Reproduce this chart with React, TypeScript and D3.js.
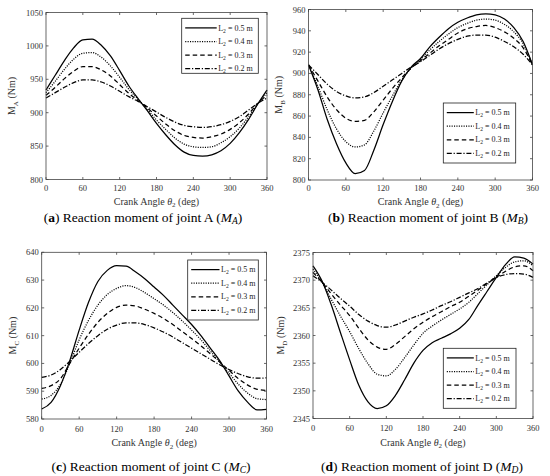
import * as React from "react";
import * as d3 from "d3";

// crank angle samples (deg)
const angles = [0, 15, 30, 45, 60, 75, 90, 105, 120, 135, 150, 165, 180, 195, 210, 225, 240, 255, 270, 285, 300, 315, 330, 345, 360];
const lengths = ["0.5", "0.4", "0.3", "0.2"];
const xTicks = [0, 60, 120, 180, 240, 300, 360];

// joint A
const mA05 = [934, 956, 978, 997, 1009, 1010, 1001, 985, 963, 940, 921, 903, 884, 867, 852, 841, 836, 835, 837, 843, 854, 870, 890, 913, 934];
const mA04 = [930, 947, 965, 980, 989, 990, 983, 970, 953, 935, 920, 905, 889, 875, 862, 853, 849, 848, 849, 855, 864, 877, 894, 913, 930];
const mA03 = [926, 938, 951, 962, 969, 969, 964, 955, 942, 929, 918, 907, 895, 883, 873, 866, 863, 862, 864, 868, 875, 885, 898, 914, 926];
const mA02 = [922, 930, 938, 945, 949, 949, 946, 940, 932, 924, 917, 909, 901, 893, 886, 881, 879, 878, 879, 882, 887, 894, 904, 914, 922];
const yTicksA = [800, 850, 900, 950, 1000, 1050];

// joint B
const mB05 = [908, 885, 857, 834, 816, 806, 809, 828, 852, 874, 893, 906, 914, 925, 934, 942, 948, 952, 955, 956, 955, 951, 943, 930, 908];
const mB04 = [908, 888, 866, 848, 836, 831, 833, 846, 863, 879, 894, 905, 913, 922, 930, 937, 943, 947, 950, 951, 950, 946, 939, 928, 908];
const mB03 = [908, 893, 878, 866, 858, 855, 856, 864, 875, 886, 896, 905, 912, 919, 926, 932, 938, 942, 944, 945, 943, 939, 933, 924, 908];
const mB02 = [908, 899, 890, 883, 879, 877, 878, 882, 888, 894, 900, 906, 911, 917, 923, 928, 932, 935, 936, 936, 934, 930, 925, 918, 908];
const yTicksB = [800, 820, 840, 860, 880, 900, 920, 940, 960];

// joint C
const mC05 = [583.6, 586, 592, 601, 612, 622, 629.5, 633.5, 635.2, 635, 633, 630.5, 627.5, 624.5, 621, 617.5, 614, 610, 605.5, 601, 595.5, 590, 586, 583.3, 583.5];
const mC04 = [587.2, 588.5, 592.5, 600, 608.5, 615.5, 621, 624.8, 627, 628, 627.3, 625.5, 623.3, 621, 618.3, 615.3, 612, 608.5, 604.5, 600.5, 596.5, 592.5, 589.3, 587.3, 587];
const mC03 = [591, 592, 594.5, 600, 605.5, 610.5, 614.8, 618, 620.2, 621, 620.7, 619.5, 618, 616.2, 614, 611.5, 609, 606.3, 603.5, 600.5, 597.5, 594.5, 592.2, 590.7, 590.3];
const mC02 = [595, 595.8, 597.8, 600.8, 604, 607.2, 610, 612.3, 613.8, 614.6, 614.6, 614, 612.8, 611.3, 609.5, 607.5, 605.5, 603.5, 601.5, 599.5, 597.8, 596.3, 595.2, 594.7, 594.8];
const yTicksC = [580, 590, 600, 610, 620, 630, 640];

// joint D
const mD05 = [2372.6, 2369.8, 2365.5, 2360.5, 2355.6, 2351.0, 2348.0, 2346.8, 2347.3, 2349.2, 2352.0, 2355.0, 2357.3, 2358.7, 2359.5, 2360.3, 2361.3, 2362.9, 2365.5, 2368.0, 2370.5, 2372.8, 2374.2, 2374.0, 2372.9];
const mD04 = [2372.0, 2369.6, 2366.5, 2363.5, 2360.7, 2357.6, 2354.9, 2353.0, 2352.7, 2353.9, 2356.0, 2358.3, 2360.4, 2361.7, 2362.8, 2363.8, 2364.8, 2366.0, 2367.6, 2369.2, 2370.8, 2372.3, 2373.3, 2373.5, 2372.6];
const mD03 = [2371.4, 2369.6, 2367.5, 2365.5, 2363.6, 2361.3, 2359.2, 2357.9, 2357.5, 2358.4, 2359.8, 2361.2, 2362.4, 2363.4, 2364.3, 2365.2, 2366.0, 2367.1, 2368.2, 2369.4, 2370.5, 2371.6, 2372.4, 2372.6, 2371.7];
const mD02 = [2370.8, 2369.6, 2368.2, 2366.7, 2365.3, 2363.8, 2362.6, 2361.8, 2361.5, 2361.9, 2362.6, 2363.3, 2363.9, 2364.6, 2365.4, 2366.1, 2366.9, 2367.7, 2368.5, 2369.5, 2370.5, 2371.0, 2371.2, 2371.1, 2370.5];
const yTicksD = [2345, 2350, 2355, 2360, 2365, 2370, 2375];

const dashes = ["none", "1.1 1.3", "4.5 3", "5 1.8 1.2 1.8"];
const serif = "Liberation Serif, DejaVu Serif, serif";
const axisGray = "#444";

type PanelProps = {
  series: number[][];
  yTicks: number[];
  box: [number, number, number, number]; // x0, y0, x1, y1
  legend: [number, number, number, number]; // x, y, w, h
  lineLen: number;
  joint: string;
  letter: string;
  yLabelX: number;
  tickGap: number;
  titleGap: number;
  captionY: number;
  captionX: number;
};

const Panel = (p: PanelProps) => {
  const [x0, y0, x1, y1] = p.box;
  const x = d3.scaleLinear().domain([0, 360]).range([x0, x1]);
  const y = d3
    .scaleLinear()
    .domain([p.yTicks[0], p.yTicks[p.yTicks.length - 1]])
    .range([y1, y0]);

  const line = d3
    .line<number>()
    .x((_, i) => x(angles[i]))
    .y((d) => y(d))
    .curve(d3.curveMonotoneX);

  const [lx, ly, lw, lh] = p.legend;
  const cx = (x0 + x1) / 2;
  const cy = (y0 + y1) / 2;

  return (
    <g>
      {/* curves */}
      {p.series.map((s, i) => (
        <path
          key={i}
          d={line(s) || ""}
          fill="none"
          stroke="#000"
          strokeWidth={1.25}
          strokeDasharray={dashes[i]}
        />
      ))}

      {/* box + inward ticks */}
      <rect x={x0} y={y0} width={x1 - x0} height={y1 - y0} fill="none" stroke={axisGray} strokeWidth={0.8} />
      {xTicks.map((t) => (
        <g key={"x" + t}>
          <line x1={x(t)} x2={x(t)} y1={y1} y2={y1 - 2.5} stroke={axisGray} strokeWidth={0.8} />
          <line x1={x(t)} x2={x(t)} y1={y0} y2={y0 + 2.5} stroke={axisGray} strokeWidth={0.8} />
          <text x={x(t)} y={y1 + p.tickGap} textAnchor="middle" fontSize={8.5} fill="#333">
            {t}
          </text>
        </g>
      ))}
      {p.yTicks.map((t) => (
        <g key={"y" + t}>
          <line x1={x0} x2={x0 + 2.5} y1={y(t)} y2={y(t)} stroke={axisGray} strokeWidth={0.8} />
          <line x1={x1} x2={x1 - 2.5} y1={y(t)} y2={y(t)} stroke={axisGray} strokeWidth={0.8} />
          <text x={x0 - 3} y={y(t) + 3} textAnchor="end" fontSize={8.5} fill="#333">
            {t}
          </text>
        </g>
      ))}

      {/* axis titles */}
      <text x={cx} y={y1 + p.titleGap} textAnchor="middle" fontSize={10} fill="#333">
        Crank Angle <tspan fontStyle="italic">θ</tspan>
        <tspan fontSize={7} dy={2.5}>2</tspan>
        <tspan dy={-2.5}> (deg)</tspan>
      </text>
      <text
        transform={`translate(${p.yLabelX},${cy}) rotate(-90)`}
        textAnchor="middle"
        fontSize={10}
        fill="#333"
      >
        M<tspan fontSize={7} dy={2.5}>{p.joint}</tspan>
        <tspan dy={-2.5}> (Nm)</tspan>
      </text>

      {/* legend */}
      <rect x={lx} y={ly} width={lw} height={lh} fill="#fff" stroke="#222" strokeWidth={0.8} />
      {lengths.map((l, i) => {
        const ey = ly + 9.6 + i * 13.6;
        return (
          <g key={l}>
            <line
              x1={lx + 3.5}
              x2={lx + 3.5 + p.lineLen}
              y1={ey}
              y2={ey}
              stroke="#000"
              strokeWidth={1.25}
              strokeDasharray={dashes[i]}
            />
            <text x={lx + 5 + p.lineLen} y={ey + 2.6} fontSize={8} fill="#222">
              L<tspan fontSize={5.6} dy={2}>2</tspan>
              <tspan dy={-2}> = {l} m</tspan>
            </text>
          </g>
        );
      })}

      {/* caption */}
      <text x={p.captionX} y={p.captionY} textAnchor="middle" fontSize={13.5} fill="#000">
        (<tspan fontWeight="bold">{p.letter}</tspan>) Reaction moment of joint {p.joint} (
        <tspan fontStyle="italic">M</tspan>
        <tspan fontStyle="italic" fontSize={9.5} dy={2.5}>{p.joint}</tspan>
        <tspan dy={-2.5}>)</tspan>
      </text>
    </g>
  );
};

export default function App() {
  return (
    <svg
      width={550}
      height={476}
      fontFamily={serif}
      style={{ position: "absolute", left: 0, top: 0, background: "#fff", fontFamily: serif }}
    >
      <Panel
        series={[mA05, mA04, mA03, mA02]}
        yTicks={yTicksA}
        box={[46, 12.5, 267, 179.5]}
        legend={[181.7, 18.3, 76.6, 55]}
        lineLen={31.5}
        joint="A"
        letter="a"
        yLabelX={15}
        tickGap={11}
        titleGap={25}
        captionY={221.5}
        captionX={143}
      />
      <Panel
        series={[mB05, mB04, mB03, mB02]}
        yTicks={yTicksB}
        box={[308.5, 9.5, 532.5, 180]}
        legend={[443.3, 103, 72.4, 60]}
        lineLen={27}
        joint="B"
        letter="b"
        yLabelX={282}
        tickGap={11}
        titleGap={25}
        captionY={221.5}
        captionX={428}
      />
      <Panel
        series={[mC05, mC04, mC03, mC02]}
        yTicks={yTicksC}
        box={[41.7, 252.3, 266.5, 419]}
        legend={[187.7, 260, 70.6, 60]}
        lineLen={28.3}
        joint="C"
        letter="c"
        yLabelX={16}
        tickGap={12.5}
        titleGap={27}
        captionY={470.5}
        captionX={151}
      />
      <Panel
        series={[mD05, mD04, mD03, mD02]}
        yTicks={yTicksD}
        box={[313, 252.5, 533, 418.5]}
        legend={[443.3, 348.3, 72.7, 60]}
        lineLen={27}
        joint="D"
        letter="d"
        yLabelX={284}
        tickGap={12.5}
        titleGap={27}
        captionY={470.5}
        captionX={422}
      />
    </svg>
  );
}
